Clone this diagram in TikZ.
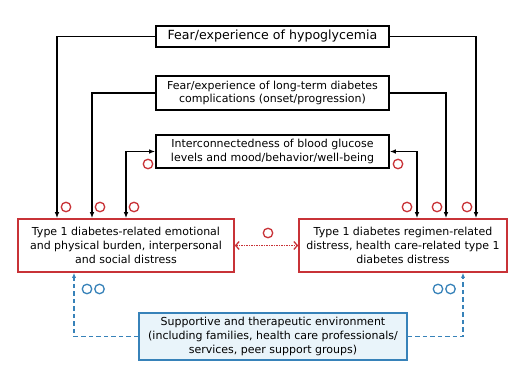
\documentclass[tikz,border=0pt]{standalone}
\usepackage{fontspec}
\setmainfont{DejaVu Sans}
\usetikzlibrary{arrows.meta}
\definecolor{boxred}{RGB}{200,50,55}
\definecolor{boxblue}{RGB}{55,130,185}
\definecolor{fillblue}{RGB}{233,244,250}
\tikzset{
  txt/.style={font=\fontsize{11}{13.6}\selectfont},
  blackbox/.style={txt, draw=black, line width=1.6pt, fill=white, inner sep=0pt, align=center},
  redbox/.style={txt, draw=boxred, line width=1.6pt, fill=white, inner sep=0pt, align=center},
  bluebox/.style={txt, draw=boxblue, line width=1.6pt, fill=fillblue, inner sep=0pt, align=center},
  link/.style={draw=black, line width=1.3pt, -{Latex[length=6pt,width=4.5pt]}},
  biglink/.style={draw=black, line width=1.3pt, {Latex[length=6pt,width=4.5pt]}-{Latex[length=6pt,width=4.5pt]}},
  redlink/.style={draw=boxred, line width=1.3pt, dash pattern=on 1.2pt off 1.3pt, {Straight Barb[length=3.5pt,width=8pt]}-{Straight Barb[length=3.5pt,width=8pt]}},
  bluelink/.style={draw=boxblue, line width=1.3pt, dash pattern=on 4.5pt off 3pt, -{Latex[length=5pt,width=4pt]}},
  redring/.style={draw=boxred, line width=1.3pt, circle, minimum size=9.5pt, inner sep=0pt},
  bluering/.style={draw=boxblue, line width=1.3pt, circle, minimum size=9.5pt, inner sep=0pt},
}
\begin{document}
\begin{tikzpicture}[x=1pt,y=-1pt]
\path[use as bounding box, fill=white] (0,0) rectangle (520,387);

\node[blackbox, font=\fontsize{12.6}{14}\selectfont, minimum width=233pt, minimum height=21pt] (h) at (272.5,36.5) {Fear/experience of hypoglycemia};
\node[blackbox, minimum width=233pt, minimum height=34pt] (c) at (272.5,93) {Fear/experience of long-term diabetes\\complications (onset/progression)};
\node[blackbox, minimum width=233pt, minimum height=33pt] (i) at (272.5,151.5) {Interconnectedness of blood glucose\\levels and mood/behavior/well-being};
\node[redbox, minimum width=216pt, minimum height=53pt] (L) at (126,245.5) {Type 1 diabetes-related emotional\\and physical burden, interpersonal\\and social distress};
\node[redbox, minimum width=208pt, minimum height=53pt] (R) at (403,245.5) {Type 1 diabetes regimen-related\\distress, health care-related type 1\\diabetes distress};
\node[bluebox, minimum width=268pt, minimum height=47pt] (S) at (273,336.5) {Supportive and therapeutic environment\\(including families, health care professionals/\\services, peer support groups)};

\draw[link] (h.west) -| ([xshift=-69pt]L.north);
\draw[link] (h.east) -| ([xshift=73pt]R.north);
\draw[link] (c.west) -| ([xshift=-34pt]L.north);
\draw[link] (c.east) -| ([xshift=43pt]R.north);
\draw[biglink] (i.west) -| (L.north);
\draw[biglink] (i.east) -| ([xshift=14pt]R.north);
\draw[redlink] (L.east) -- (R.west);
\draw[bluelink] (S.west) -| ([xshift=-52pt]L.south);
\draw[bluelink] (S.east) -| ([xshift=60pt]R.south);

\node[redring] (r1) at (148,164) {};
\node[redring] (r2) at (398,164) {};
\node[redring] (r3) at (66,207) {};
\node[redring] (r4) at (100,207) {};
\node[redring] (r5) at (134,207) {};
\node[redring] (r6) at (407,207) {};
\node[redring] (r7) at (437,207) {};
\node[redring] (r8) at (467,207) {};
\node[redring] (r9) at (268,233) {};
\node[bluering] (b1) at (87,289) {};
\node[bluering] (b2) at (99.5,289) {};
\node[bluering] (b3) at (438,289) {};
\node[bluering] (b4) at (450.5,289) {};
\end{tikzpicture}
\end{document}
